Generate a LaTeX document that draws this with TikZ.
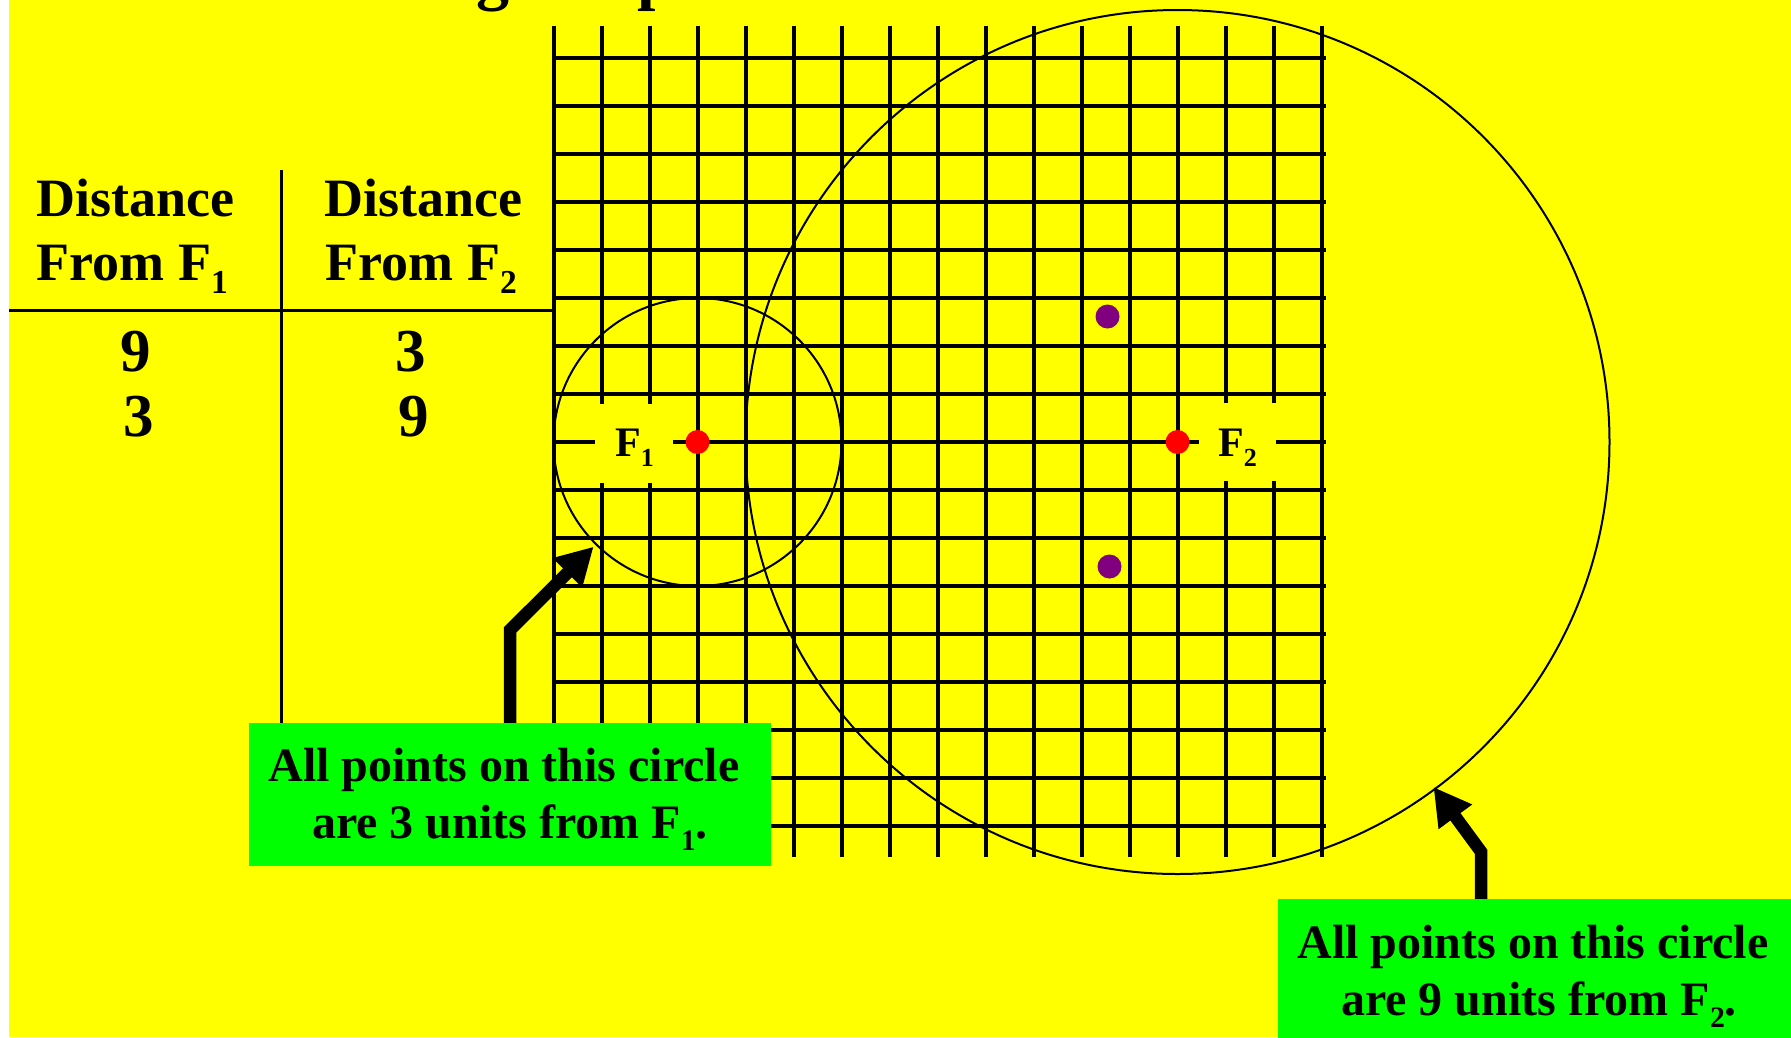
\documentclass[tikz,border=0pt]{standalone}
\usepackage{fontspec}
\setmainfont{Liberation Serif}
\usepackage{graphicx}
\usetikzlibrary{arrows.meta}
\definecolor{bgyellow}{RGB}{255,255,0}
\definecolor{boxgreen}{RGB}{0,255,0}
\definecolor{dotred}{RGB}{255,0,0}
\definecolor{dotpurple}{RGB}{128,0,128}
\newcommand{\lowsub}[1]{\raisebox{-0.24em}{\scalebox{0.62}{#1}}}
\begin{document}
\begin{tikzpicture}[x=1pt,y=-1pt,
  gridline/.style={line width=4pt,black},
  gapfill/.style={fill=bgyellow},
  circ/.style={line width=2pt,black},
  dot/.style={circle,inner sep=0pt,minimum size=24pt},
  gridlabel/.style={inner sep=0pt,font=\fontsize{42}{50}\selectfont\bfseries},
  header/.style={inner sep=0pt,font=\fontsize{54}{64}\selectfont\bfseries},
  num/.style={inner sep=0pt,font=\fontsize{61}{64}\selectfont\bfseries},
  tableline/.style={line width=3pt,black},
  titlefrag/.style={inner sep=0pt,font=\fontsize{66}{70}\selectfont\bfseries},
  greenbox/.style={fill=boxgreen,inner sep=0pt,minimum width=522pt,minimum height=143pt,
    align=center,font=\fontsize{48}{57}\selectfont\bfseries},
  bigarrow/.style={line width=12.5pt,black,line join=miter,
    -{Triangle[length=37pt,width=39pt]}}
]
\useasboundingbox (0,0) rectangle (1791,1037);
\fill[white] (0,0) rectangle (1791,1037);
\fill[bgyellow] (9,0) rectangle (1791,1037);

% title fragments (cut off at top)
\node[titlefrag,anchor=base west] (tg) at (476,-3) {g};
\node[titlefrag,anchor=base west] (tp) at (637,-3) {p};

% grid
\foreach \k in {0,...,16} \draw[gridline] (554+48*\k,26) -- (554+48*\k,857);
\foreach \j in {0,...,16} \draw[gridline] (554,58+48*\j) -- (1326,58+48*\j);

% gaps for focus labels
\fill[gapfill] (595,404) rectangle (673,483);
\fill[gapfill] (1199,403) rectangle (1276,481);

\coordinate (F1) at (697.5,442);
\coordinate (F2) at (1177.5,442);

% circles
\draw[circ] (F1) circle[radius=144];
\draw[circ] (F2) circle[radius=432];

% dots
\node[dot,fill=dotred] (f1dot) at (F1) {};
\node[dot,fill=dotred] (f2dot) at (F2) {};
\node[dot,fill=dotpurple] (p1) at (1107.5,316.5) {};
\node[dot,fill=dotpurple] (p2) at (1109.5,566.5) {};

% focus labels
\node[gridlabel,anchor=base west] (lf1) at (615,456.5) {F\lowsub{1}};
\node[gridlabel,anchor=base west] (lf2) at (1218,456) {F\lowsub{2}};

% table
\draw[tableline] (281.5,170) -- (281.5,723);
\draw[tableline] (9,310.7) -- (554,310.7);
\node[header,anchor=base west] (h1a) at (36.5,216.7) {Distance};
\node[header,anchor=base west] (h1b) at (36.5,280.7) {From F\lowsub{1}};
\node[header,anchor=base west] (h2a) at (324,216.7) {Distance};
\node[header,anchor=base west] (h2b) at (325.5,280.7) {From F\lowsub{2}};
\node[num,anchor=base] (n11) at (136,371.7) {9};
\node[num,anchor=base] (n21) at (139,436) {3};
\node[num,anchor=base] (n12) at (411,371.7) {3};
\node[num,anchor=base] (n22) at (414,436) {9};

% boxes
\node[greenbox] (b1) at (510,794.5) {\rule{0pt}{43pt}All points on this circle\kern12pt\\are 3 units from F\lowsub{1}.};
\node[greenbox] (b2) at (1539,970.5) {\rule{0pt}{45pt}All points on this circle\kern12pt\\are 9 units from F\lowsub{2}.};

% arrows
\coordinate (a1c) at (510,630);
\coordinate (a1t) at (593.6,546.7);
\coordinate (a2c) at (1481,851.7);
\coordinate (a2t) at (1433.5,787);
\draw[bigarrow] (b1.north -| a1c) -- (a1c) -- (a1t);
\draw[bigarrow] (b2.north -| a2c) -- (a2c) -- (a2t);
\end{tikzpicture}
\end{document}
